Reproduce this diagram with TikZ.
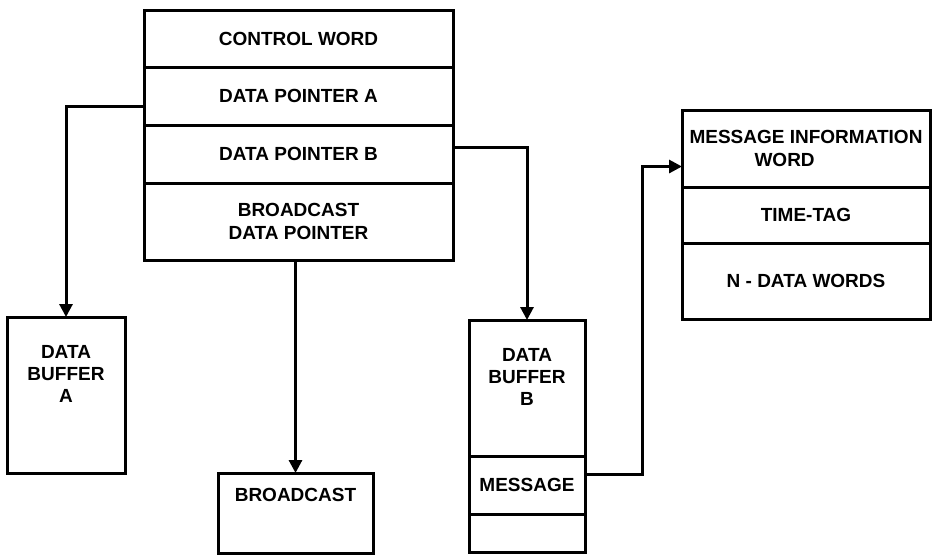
\documentclass[tikz,border=0pt]{standalone}
\usepackage{fontspec}
\setmainfont{Liberation Sans}
\usetikzlibrary{arrows.meta,positioning}

\begin{document}
\begin{tikzpicture}[x=0.5pt,y=-0.5pt,
    cell/.style={draw, line width=1.5pt, outer sep=0pt, inner sep=0pt, font=\fontsize{9.5}{11.5}\bfseries\selectfont, align=center},
    txt/.style={inner sep=0pt, font=\fontsize{9.5}{11}\bfseries\selectfont, align=center, anchor=north},
    link/.style={line width=1.5pt, -{Triangle[length=6.5pt,width=6.5pt]}}]
  \useasboundingbox (0,0) rectangle (932,554);
  % control block
  \node[cell, minimum width=154.5pt, minimum height=28.5pt, anchor=north] (ctrl) at (298.5,10) {CONTROL WORD};
  \node[cell, minimum width=154.5pt, minimum height=29pt, below=0pt of ctrl] (ptra) {DATA POINTER A};
  \node[cell, minimum width=154.5pt, minimum height=29pt, below=0pt of ptra] (ptrb) {DATA POINTER B};
  \node[cell, minimum width=154.5pt, minimum height=38.5pt, below=0pt of ptrb] (bcptr) {BROADCAST\\DATA POINTER};
  % buffers
  \node[cell, minimum width=59pt, minimum height=78pt, anchor=north] (bufa) at (66,317) {};
  \node[txt] (bufatxt) at ([yshift=-14pt]bufa.north) {DATA\\BUFFER\\A};
  \node[cell, minimum width=77.5pt, minimum height=40pt, anchor=north] (bcast) at (295.5,473) {};
  \node[txt] (bcasttxt) at ([yshift=-7.5pt]bcast.north) {BROADCAST};
  \node[cell, minimum width=58pt, minimum height=68pt, anchor=north] (bufb) at (527,320) {};
  \node[txt] (bufbtxt) at ([yshift=-14pt]bufb.north) {DATA\\BUFFER\\B};
  \node[cell, minimum width=58pt, minimum height=29pt, below=0pt of bufb] (msg) {MESSAGE};
  \node[cell, minimum width=58pt, minimum height=19pt, below=0pt of msg] (bufbend) {};
  % message layout
  \node[cell, minimum width=124pt, minimum height=38.5pt, anchor=north, align=left] (mword) at (806,110) {MESSAGE INFORMATION\\\hspace*{32.5pt}WORD};
  \node[cell, minimum width=124pt, minimum height=28pt, below=0pt of mword] (ttag) {TIME-TAG};
  \node[cell, minimum width=124pt, minimum height=38pt, below=0pt of ttag] (nwords) {N - DATA WORDS};
  % pointers
  \draw[link] ([yshift=-5pt]ptra.west) -| (bufa.north);
  \draw[link] ([yshift=3.5pt]ptrb.east) -| (bufb.north);
  \draw[link] (bcptr.south -| bcast.north) -- (bcast.north);
  \draw[link] ([yshift=5.5pt]msg.east) -- ++(57,0) |- ([yshift=-9pt]mword.west);
\end{tikzpicture}
\end{document}
